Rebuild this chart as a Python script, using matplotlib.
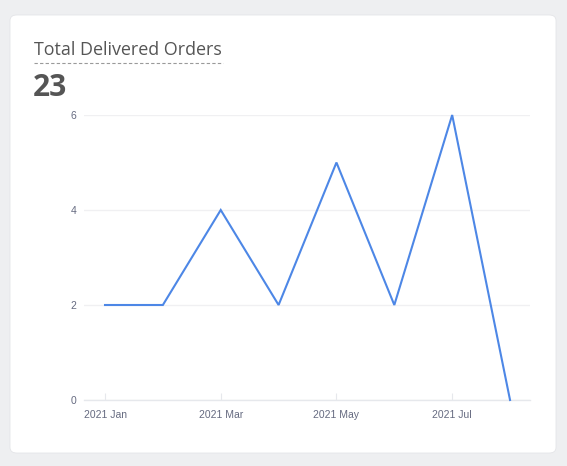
import matplotlib
matplotlib.use("Agg")
import matplotlib.pyplot as plt
from matplotlib.patches import FancyBboxPatch
from matplotlib.lines import Line2D

months = ["2021 Jan", "2021 Feb", "2021 Mar", "2021 Apr", "2021 May", "2021 Jun", "2021 Jul", "2021 Aug"]
orders = [2, 2, 4, 2, 5, 2, 6, 0]
yticks = [0, 2, 4, 6]
title = "Total Delivered Orders"
total = "23"

W, H = 567, 466
fig = plt.figure(figsize=(W / 100, H / 100), dpi=100)
fig.patch.set_facecolor("#eeeff1")

card = FancyBboxPatch((10 / W, (H - 453) / H), 546 / W, 438 / H,
                      boxstyle="round,pad=0,rounding_size=0.012",
                      transform=fig.transFigure, facecolor="white",
                      edgecolor="#e4e5e8", linewidth=0.6, zorder=-5)
fig.patches.append(card)

fig.text(34 / W, (H - 50) / H, title, fontsize=12.9, family="Open Sans",
         color="#555555", va="center", ha="left")
fig.add_artist(Line2D([34 / W, 223 / W], [(H - 62.5) / H] * 2, transform=fig.transFigure,
                      color="#9a9a9a", linewidth=0.8, linestyle=(0, (3, 2))))
fig.text(33 / W, (H - 88) / H, total, fontsize=21.5, family="Open Sans", fontweight="bold",
         color="#555555", va="center", ha="left")

ax = fig.add_axes([84 / W, (H - 400) / H, 446 / W, 285 / H])
ax.set_facecolor("none")
ax.set_zorder(2)
x = list(range(len(months)))
ax.plot(x, orders, color="#4d87e6", linewidth=1.5, solid_joinstyle="miter", clip_on=False, zorder=3)
ax.set_xlim(-0.363, 7.345)
ax.set_ylim(0, 6)
ax.set_yticks(yticks)
ax.set_yticklabels([str(v) for v in yticks])
ax.set_xticks(x[::2])
ax.set_xticklabels(months[::2])
for s in ["top", "right", "left"]:
    ax.spines[s].set_visible(False)
ax.spines["bottom"].set_color("#e6e8ec")
ax.spines["bottom"].set_linewidth(1)
ax.grid(axis="y", color="#f0f0f2", linewidth=1)
ax.set_axisbelow(True)
ax.tick_params(axis="y", length=0, pad=5.5, labelsize=7.5, labelcolor="#656a80")
ax.tick_params(axis="x", direction="in", length=5, color="#e6e8ec", pad=7.5, labelsize=7.5,
               labelcolor="#656a80")
for lab in ax.get_xticklabels() + ax.get_yticklabels():
    lab.set_family("Liberation Sans")

fig.savefig("out.png", dpi=100, facecolor=fig.get_facecolor())
